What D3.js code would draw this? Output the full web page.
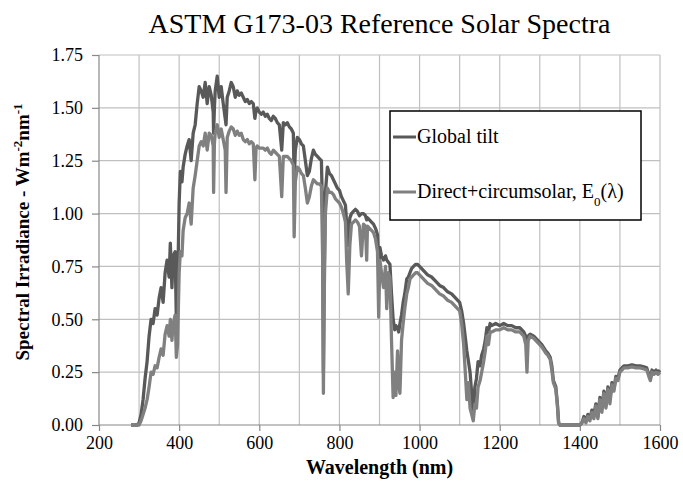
<!doctype html>
<html lang="en">
<head>
<meta charset="utf-8">
<title>ASTM G173-03 Reference Solar Spectra</title>
<script src="https://d3js.org/d3.v7.min.js"></script>
<style>
  body { margin: 0; background: #fff; }
  text { font-family: "Liberation Serif", "Times New Roman", serif; fill: #000; }
</style>
</head>
<body>
<script>
// wavelength (nm) and the two spectra (W m-2 nm-1)
var wavelength = [
  280, 290, 295, 300, 305, 310, 315, 320, 325, 330, 335, 340, 345, 350, 355, 360, 365, 370, 375, 378,
  382, 385, 390, 393, 396, 400, 403, 407, 410, 415, 420, 425, 430, 435, 440, 445, 450, 455, 460, 465,
  470, 475, 480, 485, 486, 488, 490, 495, 500, 505, 510, 515, 517, 520, 525, 530, 535, 540, 545, 550,
  555, 560, 565, 570, 575, 580, 585, 589, 592, 595, 600, 605, 610, 615, 620, 625, 630, 635, 640, 645,
  650, 656, 660, 665, 670, 675, 680, 685, 687, 690, 695, 700, 705, 710, 715, 720, 725, 730, 735, 740,
  745, 750, 755, 758, 760, 762, 765, 770, 775, 780, 785, 790, 795, 800, 805, 810, 815, 818, 822, 826,
  830, 835, 840, 845, 850, 855, 860, 865, 868, 870, 875, 880, 885, 890, 895, 898, 901, 905, 910, 915,
  918, 922, 926, 930, 934, 938, 941, 945, 948, 951, 955, 959, 963, 968, 972, 976, 980, 985, 990, 995,
  1000, 1010, 1020, 1030, 1040, 1050, 1060, 1070, 1080, 1090, 1100, 1105, 1110, 1115, 1118, 1122, 1126, 1130, 1134, 1138,
  1142, 1146, 1151, 1155, 1160, 1164, 1168, 1172, 1176, 1180, 1190, 1200, 1210, 1220, 1230, 1240, 1250, 1260, 1265, 1268,
  1271, 1276, 1285, 1295, 1305, 1315, 1320, 1326, 1330, 1334, 1340, 1344, 1347, 1350, 1400, 1405, 1410, 1415, 1420, 1425,
  1430, 1435, 1440, 1445, 1450, 1455, 1460, 1465, 1470, 1475, 1480, 1485, 1490, 1495, 1500, 1505, 1510, 1520, 1530, 1540,
  1550, 1560, 1567, 1572, 1576, 1580, 1585, 1590, 1595, 1600
];

var globalTilt = [
  0, 0, 0, 0.01, 0.05, 0.12, 0.22, 0.3, 0.42, 0.5, 0.48, 0.55, 0.52, 0.6, 0.65, 0.58, 0.72, 0.78, 0.7, 0.86,
  0.65, 0.8, 0.82, 0.5, 0.62, 1.05, 1.2, 1.15, 1.22, 1.28, 1.32, 1.35, 1.25, 1.38, 1.42, 1.52, 1.6, 1.58, 1.55, 1.62,
  1.52, 1.6, 1.56, 1.48, 1.38, 1.5, 1.58, 1.65, 1.55, 1.6, 1.52, 1.45, 1.42, 1.55, 1.58, 1.62, 1.6, 1.55, 1.58, 1.56,
  1.57, 1.55, 1.53, 1.54, 1.52, 1.53, 1.52, 1.45, 1.49, 1.5, 1.48, 1.47, 1.48, 1.46, 1.47, 1.45, 1.44, 1.46, 1.45, 1.43,
  1.42, 1.3, 1.43, 1.42, 1.43, 1.41, 1.4, 1.38, 1.15, 1.3, 1.36, 1.35, 1.33, 1.32, 1.25, 1.18, 1.2, 1.26, 1.3, 1.28,
  1.27, 1.26, 1.25, 1.0, 0.25, 0.7, 1.1, 1.22, 1.19, 1.18, 1.16, 1.14, 1.12, 1.11, 1.08, 1.06, 1.04, 0.95, 0.85, 0.98,
  1.0, 1.01, 1.02, 1.01, 0.99, 1.0, 1.0, 0.99, 0.97, 0.98, 0.97, 0.96, 0.95, 0.93, 0.9, 0.75, 0.84, 0.8, 0.78, 0.8,
  0.78, 0.77, 0.76, 0.62, 0.5, 0.45, 0.47, 0.46, 0.44, 0.48, 0.52, 0.58, 0.62, 0.69, 0.7, 0.72, 0.74, 0.75, 0.76, 0.76,
  0.75, 0.73, 0.71, 0.7, 0.68, 0.66, 0.65, 0.63, 0.62, 0.6, 0.58, 0.54, 0.48, 0.4, 0.35, 0.3, 0.25, 0.15, 0.05, 0.18,
  0.22, 0.3, 0.28, 0.33, 0.36, 0.4, 0.46, 0.44, 0.48, 0.47, 0.48, 0.47, 0.48, 0.47, 0.47, 0.46, 0.46, 0.44, 0.42, 0.38,
  0.42, 0.43, 0.42, 0.4, 0.38, 0.35, 0.34, 0.32, 0.28, 0.21, 0.18, 0.1, 0.01, 0, 0, 0.01, 0.04, 0.02, 0.05, 0.03,
  0.07, 0.05, 0.1, 0.04, 0.13, 0.08, 0.16, 0.09, 0.18, 0.12, 0.2, 0.17, 0.23, 0.22, 0.26, 0.27, 0.28, 0.28, 0.285, 0.28,
  0.28, 0.275, 0.27, 0.24, 0.22, 0.26, 0.25, 0.26, 0.25, 0.26
];

var directCircum = [
  0, 0, 0, 0, 0.02, 0.05, 0.08, 0.12, 0.18, 0.25, 0.24, 0.28, 0.27, 0.32, 0.36, 0.33, 0.43, 0.47, 0.42, 0.5,
  0.4, 0.48, 0.52, 0.32, 0.38, 0.72, 0.82, 0.8, 0.92, 0.98, 1.0, 1.05, 0.95, 1.12, 1.18, 1.25, 1.32, 1.34, 1.32, 1.38,
  1.3, 1.38, 1.37, 1.32, 1.1, 1.33, 1.38, 1.42, 1.36, 1.4, 1.35, 1.3, 1.1, 1.36, 1.39, 1.41, 1.4, 1.37, 1.39, 1.37,
  1.38, 1.35, 1.34, 1.35, 1.33, 1.34, 1.33, 1.16, 1.31, 1.32, 1.31, 1.31, 1.31, 1.3, 1.31, 1.29, 1.28, 1.3, 1.29, 1.28,
  1.27, 1.08, 1.27, 1.27, 1.27, 1.26, 1.25, 1.23, 0.89, 1.15, 1.22, 1.21, 1.19, 1.18, 1.12, 1.05, 1.08, 1.13, 1.16, 1.15,
  1.14, 1.14, 1.13, 0.8, 0.15, 0.6, 1.0, 1.12, 1.1, 1.1, 1.09, 1.07, 1.06, 1.05, 1.03, 1.0, 0.96, 0.78, 0.62, 0.85,
  0.95, 0.96, 0.97, 0.96, 0.94, 0.8, 0.95, 0.94, 0.78, 0.94, 0.93, 0.92, 0.91, 0.88, 0.82, 0.51, 0.78, 0.72, 0.65, 0.75,
  0.55, 0.72, 0.7, 0.4, 0.13, 0.25, 0.14, 0.35, 0.2, 0.15, 0.4, 0.48, 0.55, 0.62, 0.65, 0.69, 0.7, 0.71, 0.72, 0.72,
  0.71, 0.69, 0.67, 0.66, 0.64, 0.62, 0.61, 0.59, 0.58, 0.56, 0.54, 0.48, 0.38, 0.22, 0.12, 0.2, 0.08, 0.05, 0.02, 0.1,
  0.08, 0.18, 0.21, 0.25, 0.3, 0.35, 0.42, 0.38, 0.44, 0.44, 0.45, 0.45, 0.46, 0.45, 0.45, 0.44, 0.44, 0.42, 0.38, 0.25,
  0.4, 0.42, 0.41, 0.39, 0.37, 0.34, 0.33, 0.31, 0.26, 0.2, 0.17, 0.09, 0.01, 0, 0, 0.01, 0.03, 0.01, 0.04, 0.02,
  0.06, 0.03, 0.09, 0.03, 0.12, 0.06, 0.15, 0.08, 0.17, 0.1, 0.19, 0.16, 0.22, 0.21, 0.25, 0.26, 0.27, 0.27, 0.275, 0.27,
  0.27, 0.265, 0.26, 0.23, 0.21, 0.25, 0.24, 0.25, 0.24, 0.25
];

var xTicks = [200, 400, 600, 800, 1000, 1200, 1400, 1600];
var xGrid = [300, 400, 500, 600, 700, 800, 900, 1000, 1100, 1200, 1300, 1400, 1500, 1600];
var yTicks = [0, 0.25, 0.5, 0.75, 1.0, 1.25, 1.5, 1.75];

var W = 683, H = 485;
var plot = {left: 99, right: 660, top: 55, bottom: 425};
var serif = "'Liberation Serif', 'Times New Roman', serif";

var x = d3.scaleLinear().domain([200, 1600]).range([plot.left, plot.right]);
var y = d3.scaleLinear().domain([0, 1.75]).range([plot.bottom, plot.top]);

var svg = d3.select("body").append("svg")
  .attr("width", W)
  .attr("height", H)
  .style("background", "#fff");

// grid
svg.append("g").selectAll("line")
  .data(xGrid)
  .enter().append("line")
  .attr("x1", d => x(d)).attr("x2", d => x(d))
  .attr("y1", plot.top).attr("y2", plot.bottom)
  .attr("stroke", "#c0c0c0").attr("stroke-width", 1.2);

svg.append("g").selectAll("line")
  .data(yTicks.filter(d => d > 0))
  .enter().append("line")
  .attr("x1", plot.left).attr("x2", plot.right)
  .attr("y1", d => y(d)).attr("y2", d => y(d))
  .attr("stroke", "#c0c0c0").attr("stroke-width", 1.2);

// axes
var xAxis = d3.axisBottom(x).tickValues(xTicks).tickSize(6).tickPadding(5).tickFormat(d3.format("d"));
var yAxis = d3.axisLeft(y).tickValues(yTicks).tickSize(7).tickPadding(9).tickFormat(d3.format(".2f"));

var gx = svg.append("g").attr("transform", "translate(0," + plot.bottom + ")").call(xAxis);
var gy = svg.append("g").attr("transform", "translate(" + plot.left + ",0)").call(yAxis);

[gx, gy].forEach(function(g) {
  g.attr("font-family", null);
  g.select(".domain").attr("stroke", "#888").attr("stroke-width", 1.2);
  g.selectAll(".tick line").attr("stroke", "#888").attr("stroke-width", 1.2);
  g.selectAll(".tick text")
    .style("font-family", serif)
    .attr("font-size", 18).attr("fill", "#000");
});
gx.select(".domain").attr("d", "M" + plot.left + ",0H" + plot.right);
gy.select(".domain").attr("d", "M0," + plot.top + "V" + plot.bottom);

// series
var pts = wavelength.map((w, i) => ({w: w, g: globalTilt[i], d: directCircum[i]}));

var lineG = d3.line().x(d => x(d.w)).y(d => y(d.g));
var lineD = d3.line().x(d => x(d.w)).y(d => y(d.d));

svg.append("path").datum(pts)
  .attr("d", lineG)
  .attr("fill", "none").attr("stroke", "#595959")
  .attr("stroke-width", 3.3).attr("stroke-linejoin", "round");

svg.append("path").datum(pts)
  .attr("d", lineD)
  .attr("fill", "none").attr("stroke", "#808080")
  .attr("stroke-width", 3.3).attr("stroke-linejoin", "round");

// title
svg.append("text")
  .attr("x", (plot.left + plot.right) / 2).attr("y", 33)
  .attr("text-anchor", "middle")
  .style("font-family", serif)
  .attr("font-size", 28)
  .text("ASTM G173-03 Reference Solar Spectra");

// x title
svg.append("text")
  .attr("x", (plot.left + plot.right) / 2).attr("y", 474)
  .attr("text-anchor", "middle")
  .style("font-family", serif)
  .attr("font-size", 20).attr("font-weight", "bold")
  .text("Wavelength (nm)");

// y title
var yt = svg.append("text")
  .attr("transform", "translate(29,232) rotate(-90)")
  .attr("text-anchor", "middle")
  .style("font-family", serif)
  .attr("font-size", 19).attr("font-weight", "bold");
yt.append("tspan").text("Spectral Irradiance - Wm");
yt.append("tspan").attr("baseline-shift", "super").attr("font-size", 13).text("-2");
yt.append("tspan").text("nm");
yt.append("tspan").attr("baseline-shift", "super").attr("font-size", 13).text("-1");

// legend
var legend = svg.append("g");
legend.append("rect")
  .attr("x", 390).attr("y", 111).attr("width", 251).attr("height", 109)
  .attr("fill", "#fff").attr("stroke", "#000").attr("stroke-width", 1.5);

var legendItems = [
  {color: "#595959", cy: 137},
  {color: "#808080", cy: 192}
];

legend.selectAll(".swatch")
  .data(legendItems)
  .enter().append("line")
  .attr("x1", 393).attr("x2", 416)
  .attr("y1", d => d.cy).attr("y2", d => d.cy)
  .attr("stroke", d => d.color).attr("stroke-width", 3);

legend.append("text")
  .attr("x", 417).attr("y", 143)
  .style("font-family", serif)
  .attr("font-size", 20)
  .text("Global tilt");

var t2 = legend.append("text")
  .attr("x", 417).attr("y", 198)
  .style("font-family", serif)
  .attr("font-size", 20);
t2.append("tspan").text("Direct+circumsolar, E");
t2.append("tspan").attr("baseline-shift", "sub").attr("font-size", 13).text("0");
t2.append("tspan").text("(\u03bb)");
</script>
</body>
</html>
